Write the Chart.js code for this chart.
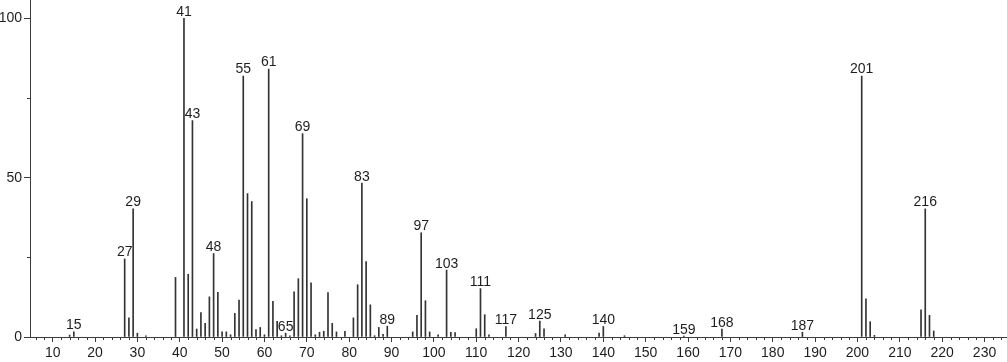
<!DOCTYPE html>
<html>
<head>
<meta charset="utf-8">
<title>Mass spectrum</title>
<script src="https://cdn.jsdelivr.net/npm/chart.js@4.4.1/dist/chart.umd.min.js"></script>
<style>
    html, body { margin: 0; padding: 0; background: #fff; }
    .chart-wrap { position: relative; width: 1007px; height: 362px; }
</style>
</head>
<body>
<div class="chart-wrap"><canvas id="spectrumChart"></canvas></div>
<script>
// m/z values and their relative intensities (%)
const massValues = [
    14, 15, 27, 28, 29, 30, 32, 39, 41, 42, 43, 44, 45, 46, 47, 48, 49, 50, 51, 52,
    53, 54, 55, 56, 57, 58, 59, 60, 61, 62, 63, 64, 65, 66, 67, 68, 69, 70, 71, 72,
    73, 74, 75, 76, 77, 79, 81, 82, 83, 84, 85, 86, 87, 88, 89, 95, 96, 97, 98, 99,
    101, 103, 104, 105, 110, 111, 112, 113, 117, 124, 125, 126, 131, 139, 140, 145,
    159, 168, 187, 201, 202, 203, 204, 215, 216, 217, 218
];
const intensities = [
    0.6, 1.6, 24.5, 6.0, 40.2, 1.2, 0.4, 18.7, 100, 19.7, 67.9, 2.5, 7.7, 4.3, 12.6, 26.2, 14.0, 1.6, 1.6, 0.7,
    7.4, 11.6, 81.9, 45.0, 42.5, 2.3, 3.0, 0.7, 84.1, 11.2, 4.9, 0.4, 1.2, 0.4, 14.2, 18.3, 63.8, 43.4, 17.0, 0.7,
    1.5, 1.8, 13.9, 4.3, 1.6, 1.8, 6.0, 16.4, 48.3, 23.7, 10.1, 0.4, 3.0, 0.8, 3.4, 1.6, 6.8, 32.7, 11.4, 1.6,
    0.7, 21.0, 1.5, 1.4, 2.6, 15.2, 7.0, 0.7, 3.3, 1.1, 5.0, 2.6, 0.7, 1.2, 3.3, 0.4,
    0.3, 2.5, 1.5, 81.9, 12.0, 4.8, 0.5, 8.5, 40.2, 6.8, 1.9
];
// peaks that carry their m/z as a label
const labelledPeaks = [15, 27, 29, 41, 43, 48, 55, 61, 65, 69, 83, 89, 97, 103, 111, 117, 125, 140, 159, 168, 187, 201, 216];

const xTickLabels = [10, 20, 30, 40, 50, 60, 70, 80, 90, 100, 110, 120, 130, 140, 150, 160, 170, 180, 190, 200, 210, 220, 230];
const yTickLabels = [0, 50, 100];
const yMinorTicks = [25, 75];
const xMinorStep = 2;

(function() {
    'use strict';

    const axisColor = '#3c3c3c';
    const textColor = '#1e1e1e';
    const fontFamily = '"Liberation Sans", Arial, Helvetica, sans-serif';

    document.addEventListener('DOMContentLoaded', function() {
        initSpectrumChart();
    });

    const minorTicksPlugin = {
        id: 'minorTicks',
        afterDraw: function(chart) {
            const ctx = chart.ctx;
            const xs = chart.scales.x;
            const ys = chart.scales.y;
            ctx.save();
            ctx.strokeStyle = axisColor;
            ctx.lineWidth = 1;
            ctx.beginPath();
            for (let v = Math.ceil(xs.min / xMinorStep) * xMinorStep; v <= xs.max; v += xMinorStep) {
                if (xTickLabels.includes(v)) continue;
                const px = Math.round(xs.getPixelForValue(v)) + 0.5;
                ctx.moveTo(px, xs.top);
                ctx.lineTo(px, xs.top + 3);
            }
            yMinorTicks.forEach(function(v) {
                const py = Math.round(ys.getPixelForValue(v)) + 0.5;
                ctx.moveTo(ys.right - 3, py);
                ctx.lineTo(ys.right, py);
            });
            ctx.stroke();
            ctx.restore();
        }
    };

    const peakLabelPlugin = {
        id: 'peakLabels',
        afterDatasetsDraw: function(chart) {
            const ctx = chart.ctx;
            const meta = chart.getDatasetMeta(0);
            ctx.save();
            ctx.font = '14px ' + fontFamily;
            ctx.fillStyle = textColor;
            ctx.textAlign = 'center';
            ctx.textBaseline = 'alphabetic';
            meta.data.forEach(function(bar, i) {
                const mz = massValues[i];
                if (!labelledPeaks.includes(mz)) return;
                ctx.fillText(String(mz), bar.x, bar.y - 2.5);
            });
            ctx.restore();
        }
    };

    function initSpectrumChart() {
        const canvas = document.getElementById('spectrumChart');
        if (!canvas) return;

        const points = massValues.map(function(mz, i) {
            return { x: mz, y: intensities[i] };
        });

        new Chart(canvas.getContext('2d'), {
            type: 'bar',
            data: {
                datasets: [{
                    data: points,
                    backgroundColor: '#333333',
                    borderWidth: 0,
                    barThickness: 1
                }]
            },
            options: {
                responsive: true,
                maintainAspectRatio: false,
                animation: false,
                layout: { padding: 0 },
                plugins: {
                    legend: { display: false },
                    tooltip: { enabled: false }
                },
                scales: {
                    x: {
                        type: 'linear',
                        min: 4.65,
                        max: 235.3,
                        offset: false,
                        afterBuildTicks: function(scale) {
                            scale.ticks = xTickLabels.map(function(v) { return { value: v }; });
                        },
                        afterFit: function(scale) {
                            scale.height = 25;
                        },
                        grid: {
                            offset: false,
                            drawOnChartArea: false,
                            drawTicks: true,
                            tickLength: 5,
                            tickColor: axisColor
                        },
                        border: { display: true, color: axisColor, width: 1 },
                        ticks: {
                            color: textColor,
                            padding: 3,
                            maxRotation: 0,
                            autoSkip: false,
                            font: { family: fontFamily, size: 14 }
                        }
                    },
                    y: {
                        min: 0,
                        max: 105.74,
                        afterBuildTicks: function(scale) {
                            scale.ticks = yTickLabels.map(function(v) { return { value: v }; });
                        },
                        afterFit: function(scale) {
                            scale.width = 30;
                            // "100" sits well inside the range, no room needed above it
                            scale.paddingTop = 0;
                            scale.paddingBottom = 0;
                        },
                        grid: {
                            drawOnChartArea: false,
                            drawTicks: true,
                            tickLength: 6,
                            tickColor: axisColor
                        },
                        border: { display: true, color: axisColor, width: 1 },
                        ticks: {
                            color: textColor,
                            padding: 2,
                            font: { family: fontFamily, size: 14 }
                        }
                    }
                }
            },
            plugins: [minorTicksPlugin, peakLabelPlugin]
        });
    }

})();
</script>
</body>
</html>
